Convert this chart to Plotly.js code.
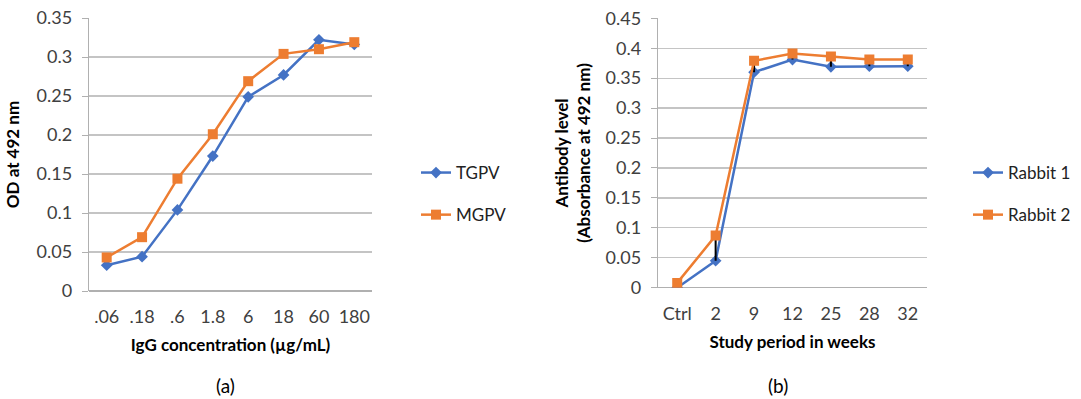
<!DOCTYPE html>
<html>
<head>
<meta charset="utf-8">
<script src="https://cdn.plot.ly/plotly-3.0.1.min.js"></script>
<style>html,body{margin:0;padding:0;background:#fff;}#chart{width:1081px;height:399px;}</style>
</head>
<body>
<div id="chart"></div>
<script>
// Panel (a)
const concLabels = ['.06', '.18', '.6', '1.8', '6', '18', '60', '180'];
const tgpv = [0.033, 0.044, 0.104, 0.173, 0.249, 0.277, 0.322, 0.316];
const mgpv = [0.043, 0.069, 0.144, 0.201, 0.269, 0.304, 0.310, 0.319];

// Panel (b)
const weekLabels = ['Ctrl', '2', '9', '12', '25', '28', '32'];
const rabbit1 = [0.000, 0.045, 0.360, 0.381, 0.369, 0.370, 0.370];
const rabbit2 = [0.008, 0.087, 0.379, 0.391, 0.386, 0.381, 0.381];
const rabbit2ErrMinus = [0.000, 0.042, 0.019, 0.010, 0.017, 0.011, 0.011];

const BLUE = '#4472C4';
const ORANGE = '#ED7D31';
const FONT = 'Lato, "Open Sans", sans-serif';
const GRID = '#c4c4c4';
const AXIS = '#b0b0b0';

const W = 1081, H = 399;
const px = x => x / W;
const py = y => 1 - y / H;

const traces = [
  {x: concLabels, y: tgpv, name: 'TGPV', type: 'scatter', mode: 'lines+markers',
   xaxis: 'x', yaxis: 'y', legend: 'legend', legendgroup: 'a1',
   line: {color: BLUE, width: 2.5}, marker: {symbol: 'diamond', size: 9, color: BLUE}},
  {x: concLabels, y: mgpv, name: 'MGPV', type: 'scatter', mode: 'lines+markers',
   xaxis: 'x', yaxis: 'y', legend: 'legend', legendgroup: 'a2',
   line: {color: ORANGE, width: 2.5}, marker: {symbol: 'square', size: 10, color: ORANGE}},
  {x: weekLabels, y: rabbit1, name: 'Rabbit 1', type: 'scatter', mode: 'lines+markers',
   xaxis: 'x2', yaxis: 'y2', legend: 'legend2', legendgroup: 'b1',
   line: {color: BLUE, width: 2.5}, marker: {symbol: 'diamond', size: 9, color: BLUE}},
  {x: weekLabels, y: rabbit2, name: 'Rabbit 2', type: 'scatter', mode: 'lines+markers',
   xaxis: 'x2', yaxis: 'y2', legend: 'legend2', legendgroup: 'b2',
   line: {color: ORANGE, width: 2.5}, marker: {symbol: 'square', size: 10, color: ORANGE},
   error_y: {type: 'data', symmetric: false, array: weekLabels.map(() => 0), arrayminus: rabbit2ErrMinus,
             color: '#000', thickness: 2, width: 0}}
];

const tickFont = {family: FONT, size: 18, color: '#404040'};
const titleFont = {family: FONT, size: 17, color: '#000', weight: 'bold'};
const legFont = {family: FONT, size: 17, color: '#222'};

const layout = {
  width: W, height: H,
  margin: {l: 0, r: 0, t: 0, b: 0},
  paper_bgcolor: '#fff', plot_bgcolor: '#fff',
  font: {family: FONT, size: 16, color: '#000'},
  xaxis: {domain: [px(89), px(372)], type: 'category', range: [-0.5, 7.5],
    showgrid: false, zeroline: false, showline: false, ticks: '',
    tickfont: tickFont, ticklabelstandoff: 13,
    title: {text: 'IgG concentration (µg/mL)', font: titleFont, standoff: 13}},
  yaxis: {domain: [py(291), py(18)], range: [0, 0.35], dtick: 0.05, tick0: 0,
    showgrid: true, gridcolor: GRID, gridwidth: 1.3, zeroline: true, zerolinecolor: AXIS, zerolinewidth: 1.3,
    showline: true, linecolor: AXIS, linewidth: 1.3, ticks: 'outside', ticklen: 6, tickcolor: AXIS,
    tickfont: tickFont, ticklabelstandoff: 6,
    title: {text: 'OD at 492 nm', font: titleFont, standoff: 12}},
  xaxis2: {domain: [px(658), px(927)], type: 'category', range: [-0.5, 6.5], anchor: 'y2',
    showgrid: false, zeroline: false, showline: false, ticks: '',
    tickfont: tickFont, ticklabelstandoff: 13,
    title: {text: 'Study period in weeks', font: titleFont, standoff: 13}},
  yaxis2: {domain: [py(287.7), py(18.3)], range: [0, 0.45], dtick: 0.05, tick0: 0, anchor: 'x2',
    showgrid: true, gridcolor: GRID, gridwidth: 1.3, zeroline: true, zerolinecolor: AXIS, zerolinewidth: 1.3,
    showline: true, linecolor: AXIS, linewidth: 1.3, ticks: 'outside', ticklen: 6, tickcolor: AXIS,
    tickfont: tickFont, ticklabelstandoff: 6,
    title: {text: 'Antibody level<br>(Absorbance at 492 nm)', font: titleFont, standoff: 10}},
  legend: {x: px(416), y: py(155), xanchor: 'left', yanchor: 'top',
    font: legFont, bgcolor: 'rgba(0,0,0,0)',
    traceorder: 'grouped', tracegroupgap: 17, itemwidth: 30},
  legend2: {x: px(968), y: py(155), xanchor: 'left', yanchor: 'top',
    font: legFont, bgcolor: 'rgba(0,0,0,0)',
    traceorder: 'grouped', tracegroupgap: 17, itemwidth: 30},
  annotations: [
    {text: '(a)', xref: 'paper', yref: 'paper', x: px(225), y: py(385), xanchor: 'center', yanchor: 'middle',
     showarrow: false, font: {family: FONT, size: 19, color: '#000'}},
    {text: '(b)', xref: 'paper', yref: 'paper', x: px(778), y: py(385), xanchor: 'center', yanchor: 'middle',
     showarrow: false, font: {family: FONT, size: 19, color: '#000'}}
  ],
  showlegend: true
};

Plotly.newPlot('chart', traces, layout, {staticPlot: true, displayModeBar: false});
</script>
</body>
</html>
